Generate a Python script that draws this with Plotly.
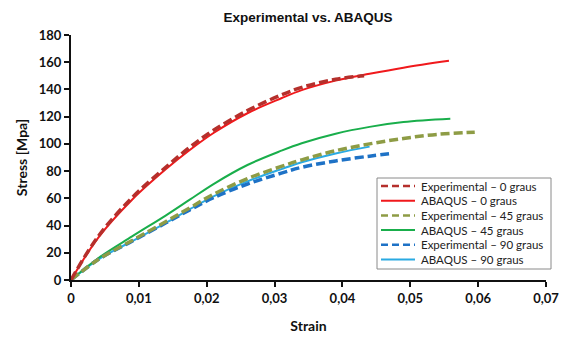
import plotly.graph_objects as go

# Experimental - 0 graus
exp0_strain = [0, 0.004, 0.009, 0.014, 0.0175, 0.021, 0.026, 0.031, 0.034, 0.039, 0.0432]
exp0_stress = [0, 32, 60.5, 83, 97.5, 110, 124.5, 136, 141.5, 147.5, 150]
# ABAQUS - 0 graus
aba0_strain = [0, 0.004, 0.009, 0.014, 0.0175, 0.021, 0.026, 0.031, 0.034, 0.039, 0.044, 0.049, 0.0557]
aba0_stress = [0, 31, 59, 81.5, 95.5, 108, 122.5, 133.5, 139.5, 146.5, 151.5, 156, 161]
# Experimental - 45 graus
exp45_strain = [0, 0.004, 0.009, 0.014, 0.0175, 0.021, 0.026, 0.031, 0.034, 0.039, 0.044, 0.049, 0.054, 0.0595]
exp45_stress = [0, 15, 29, 43, 53, 63, 74.5, 83.5, 88.3, 95, 100, 104, 107, 108.6]
# ABAQUS - 45 graus
aba45_strain = [0, 0.004, 0.009, 0.014, 0.0175, 0.021, 0.026, 0.031, 0.034, 0.039, 0.044, 0.049, 0.0559]
aba45_stress = [0, 16, 32, 47.5, 59, 70.5, 84.5, 95, 100.5, 107.5, 112.5, 116, 118.4]
# Experimental - 90 graus
exp90_strain = [0, 0.004, 0.009, 0.014, 0.0175, 0.021, 0.026, 0.031, 0.034, 0.039, 0.044, 0.0474]
exp90_stress = [0, 15, 28.5, 42, 51.5, 60.5, 70.5, 78.5, 82.8, 87.5, 91, 93]
# ABAQUS - 90 graus
aba90_strain = [0, 0.004, 0.009, 0.014, 0.0175, 0.021, 0.026, 0.031, 0.034, 0.039, 0.044]
aba90_stress = [0, 15, 28.5, 42, 52, 61.5, 72.5, 81.5, 86.5, 93, 98]

x_ticks = [0, 0.01, 0.02, 0.03, 0.04, 0.05, 0.06, 0.07]
y_ticks = [0, 20, 40, 60, 80, 100, 120, 140, 160, 180]

series = [
    ("Experimental – 0 graus", exp0_strain, exp0_stress, "#B5302C", "9px,4px", 3.5),
    ("ABAQUS – 0 graus", aba0_strain, aba0_stress, "#F0191C", "solid", 2),
    ("Experimental – 45 graus", exp45_strain, exp45_stress, "#8E9C45", "9px,4px", 3.5),
    ("ABAQUS – 45 graus", aba45_strain, aba45_stress, "#19AE4B", "solid", 2),
    ("Experimental – 90 graus", exp90_strain, exp90_stress, "#1E72C6", "9px,4px", 3.5),
    ("ABAQUS – 90 graus", aba90_strain, aba90_stress, "#2AAAE2", "solid", 2),
]

fig = go.Figure()
for i in [5, 3, 1, 4, 2, 0]:
    name, xs, ys, col, dash, w = series[i]
    fig.add_trace(go.Scatter(x=xs, y=ys, mode="lines", name=name, showlegend=False,
                             line=dict(color=col, dash=dash, width=w, shape="spline", smoothing=1),
                             cliponaxis=False))

# Custom legend (paper coordinates) to match compact spacing of the reference
ML, MR, MT, MB = 71, 17, 35, 58
W, H = 563, 338
pw, ph = W - ML - MR, H - MT - MB
def px2x(p):
    return (p - ML) / pw
def py2y(p):
    return 1 - (p - MT) / ph

shapes = [dict(type="rect", xref="paper", yref="paper",
               x0=px2x(377), x1=px2x(551), y0=py2y(269), y1=py2y(178),
               line=dict(color="#8a8a8a", width=1), fillcolor="white", layer="above")]
annotations = []
for k, (name, xs, ys, col, dash, w) in enumerate(series):
    yy = py2y(186 + k * 14.7)
    shapes.append(dict(type="line", xref="paper", yref="paper",
                       x0=px2x(381), x1=px2x(415), y0=yy, y1=yy, layer="above",
                       line=dict(color=col, width=2.5 if dash != "solid" else 2,
                                 dash="7px,4px" if dash != "solid" else "solid")))
    annotations.append(dict(xref="paper", yref="paper", x=px2x(419), y=yy, xanchor="left",
                            yanchor="middle", text=name, showarrow=False,
                            font=dict(family="Lato, Noto Sans, sans-serif", size=11.5, color="#222")))

tickfont = dict(family="Lato, Noto Sans, sans-serif", size=13, color="#111", weight="bold")
fig.update_layout(
    width=W, height=H,
    margin=dict(l=ML, r=MR, t=MT, b=MB),
    paper_bgcolor="white", plot_bgcolor="white",
    separators=",.",
    showlegend=False,
    shapes=shapes, annotations=annotations,
    title=dict(text="<b>Experimental vs. ABAQUS</b>", x=0.547, xanchor="center", y=0.95, yanchor="middle",
               font=dict(family="Liberation Sans, Arial, sans-serif", size=13.5, color="#111")),
    xaxis=dict(range=[0, 0.07], tickvals=x_ticks, showgrid=False, zeroline=False, automargin=False,
               showline=True, linecolor="#111", linewidth=2, ticks="outside", ticklen=5, tickwidth=2,
               tickcolor="#111", tickfont=tickfont,
               title=dict(text="<b>Strain</b>", font=dict(family="Lato, Noto Sans, sans-serif", size=14, color="#111"), standoff=17)),
    yaxis=dict(range=[0, 180], tickvals=y_ticks, showgrid=False, zeroline=False, automargin=False,
               showline=True, linecolor="#111", linewidth=2, ticks="outside", ticklen=5, tickwidth=2,
               tickcolor="#111", tickfont=tickfont,
               title=dict(text="<b>Stress [Mpa]</b>", font=dict(family="Lato, Noto Sans, sans-serif", size=14, color="#111"), standoff=8)),
)

fig.write_html("out.html", config={"displayModeBar": False},
               post_script="document.body.style.margin='0';")
